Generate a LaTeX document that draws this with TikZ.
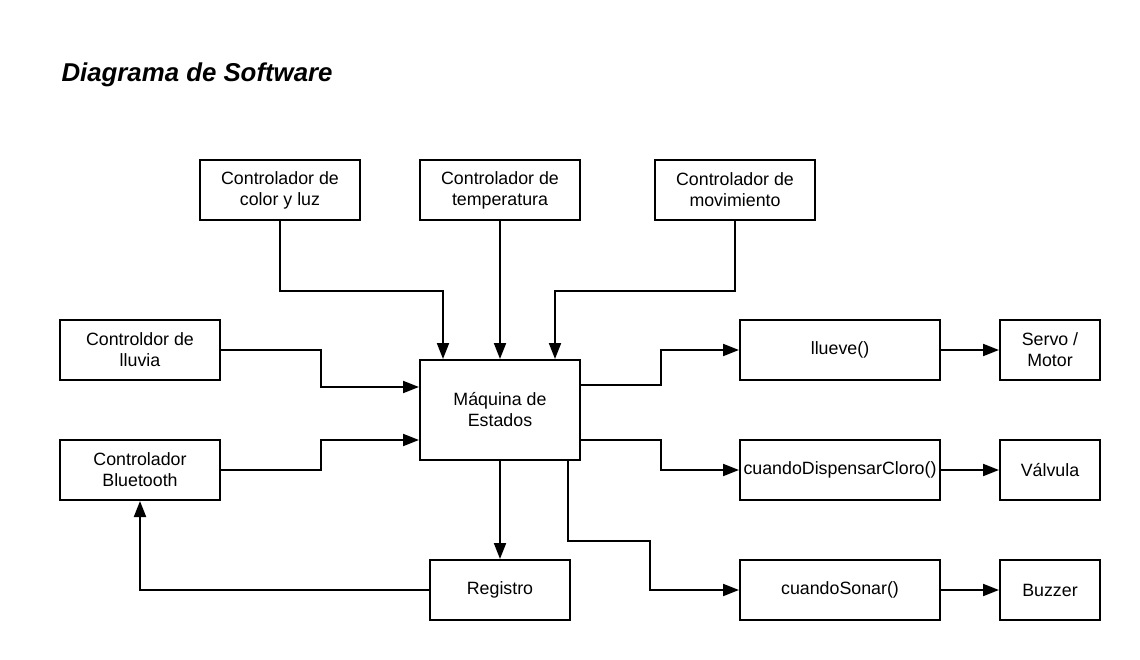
\documentclass[tikz,border=0pt]{standalone}
\usepackage{fontspec}
\setmainfont{Liberation Sans}
\usetikzlibrary{arrows.meta}
\begin{document}
\begin{tikzpicture}[x=1pt,y=-1pt,
  box/.style={draw,line width=2pt,rectangle,inner sep=0pt,align=center,
    font=\fontsize{17.8}{21}\selectfont},
  conn/.style={line width=2pt,-{Triangle[length=16pt,width=12pt]}},
]
\useasboundingbox (0,0) rectangle (1140,660);
\node[anchor=base west,font=\fontsize{25.8}{30}\selectfont\bfseries\itshape] (title) at (58,82) {Diagrama de Software};

\node[box,minimum width=160pt,minimum height=60pt] (color) at (280,190) {Controlador de\\color y luz};
\node[box,minimum width=160pt,minimum height=60pt] (temp) at (500,190) {Controlador de\\temperatura};
\node[box,minimum width=160pt,minimum height=60pt] (mov) at (735,190) {Controlador de\\movimiento};
\node[box,minimum width=160pt,minimum height=60pt] (lluvia) at (140,350) {Controldor de\\lluvia};
\node[box,minimum width=160pt,minimum height=60pt] (bt) at (140,470) {Controlador\\Bluetooth};
\node[box,minimum width=160pt,minimum height=100pt] (maq) at (500,410) {Máquina de\\Estados};
\node[box,minimum width=140pt,minimum height=60pt] (reg) at (500,590) {Registro};
\node[box,minimum width=200pt,minimum height=60pt] (llueve) at (840,350) {llueve()};
\node[box,minimum width=200pt,minimum height=60pt] (cloro) at (840,470) {cuandoDispensarCloro()};
\node[box,minimum width=200pt,minimum height=60pt] (sonar) at (840,590) {cuandoSonar()};
\node[box,minimum width=100pt,minimum height=60pt] (servo) at (1050,350) {Servo /\\Motor};
\node[box,minimum width=100pt,minimum height=60pt] (valv) at (1050,470) {Válvula};
\node[box,minimum width=100pt,minimum height=60pt] (buzz) at (1050,590) {Buzzer};

\draw[conn] (color.south) -- ++(0,70) -| ([xshift=-57pt]maq.north);
\draw[conn] (temp.south) -- (maq.north);
\draw[conn] (mov.south) -- ++(0,70) -| ([xshift=55pt]maq.north);
\draw[conn] (lluvia.east) -- ++(100,0) |- ([yshift=23pt]maq.west);
\draw[conn] (bt.east) -- ++(100,0) |- ([yshift=-30pt]maq.west);
\draw[conn] ([yshift=25pt]maq.east) -- ++(80,0) |- (llueve.west);
\draw[conn] ([yshift=-30pt]maq.east) -- ++(80,0) |- (cloro.west);
\draw[conn] (maq.south) -- (reg.north);
\draw[conn] ([xshift=68pt]maq.south) -- ++(0,80) -- ++(82,0) |- (sonar.west);
\draw[conn] (reg.west) -| (bt.south);
\draw[conn] (llueve.east) -- (servo.west);
\draw[conn] (cloro.east) -- (valv.west);
\draw[conn] (sonar.east) -- (buzz.west);
\end{tikzpicture}
\end{document}
